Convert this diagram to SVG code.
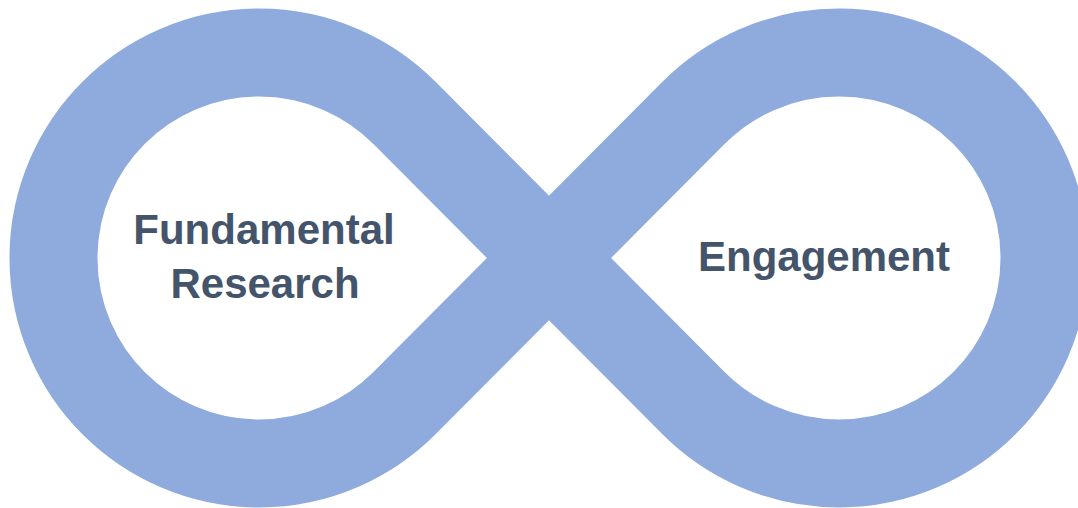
<svg xmlns="http://www.w3.org/2000/svg" width="1078" height="508" viewBox="0 0 1078 508">
<style>
.band{fill:none;stroke:#8FAADC;stroke-width:88;stroke-linejoin:miter}
.lbl{font-family:"Liberation Sans",Arial,sans-serif;font-weight:bold;font-size:42px;fill:#44546A;text-anchor:middle}
</style>
<rect width="1078" height="508" fill="#FFFFFF"/>
<g id="connectors">
<path class="band" d="M549 258 L404.6 113 A205.5 205.5 0 1 0 404.6 403 L549 258 L693.4 113 A205.5 205.5 0 1 1 693.4 403 Z"/>
</g>
<g id="node-fundamental-research">
<text class="lbl" x="264" y="244">Fundamental</text>
<text class="lbl" x="265" y="298">Research</text>
</g>
<g id="node-engagement">
<text class="lbl" x="824" y="271">Engagement</text>
</g>
</svg>
